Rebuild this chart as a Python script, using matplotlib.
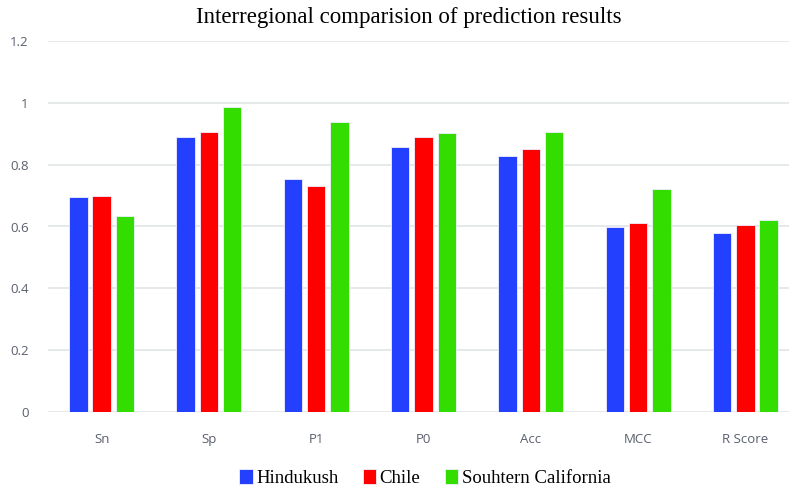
import numpy as np
import matplotlib.pyplot as plt

# Metrics compared across the three regions
categories = ["Sn", "Sp", "P1", "P0", "Acc", "MCC", "R Score"]
hindukush = [0.694, 0.890, 0.755, 0.858, 0.828, 0.599, 0.579]
chile = [0.699, 0.906, 0.731, 0.890, 0.850, 0.610, 0.604]
s_california = [0.635, 0.985, 0.938, 0.901, 0.906, 0.722, 0.622]
series_names = ["Hindukush", "Chile", "Souhtern California"]

colors = ["#2340ff", "#ff0000", "#33dd00"]

fig = plt.figure(figsize=(7.89, 4.86), dpi=100)
ax = fig.add_axes([48 / 789, 1 - 412 / 486, 751 / 789, 371 / 486])

x = np.arange(len(categories))
width = 0.172
step = 0.217
for i, (vals, name, c) in enumerate(zip([hindukush, chile, s_california], series_names, colors)):
    ax.bar(x + (i - 1) * step, vals, width, color=c, label=name,
           edgecolor="#f0f0ff", linewidth=0.6, zorder=3)

ax.set_xlim(-0.5, len(categories) - 0.5)
ax.set_ylim(0, 1.2)
ax.set_yticks([0, 0.2, 0.4, 0.6, 0.8, 1.0, 1.2])
ax.set_yticklabels(["0", "0.2", "0.4", "0.6", "0.8", "1", "1.2"])
ax.set_xticks(x)
ax.set_xticklabels(categories)
ax.tick_params(axis="both", length=0, labelsize=9.5, labelcolor="#595f6e",
               labelfontfamily="Open Sans")
ax.tick_params(axis="y", pad=14)
ax.tick_params(axis="x", pad=15)
ax.grid(axis="y", color="#e1e5e6", linewidth=1.2, zorder=0)
for s in ax.spines.values():
    s.set_visible(False)

fig.text(409 / 789, 1 - 18 / 486, "Interregional comparision of prediction results",
         ha="center", va="center", fontsize=16.5, family="Liberation Serif")

fig.legend(loc="center", bbox_to_anchor=(425 / 789, 1 - 478 / 486), ncol=3,
           frameon=False, prop={"family": "Liberation Serif", "size": 13.5},
           handlelength=0.7, handleheight=0.9, handletextpad=0.2, columnspacing=1.3)

fig.savefig("out.png", dpi=100)
